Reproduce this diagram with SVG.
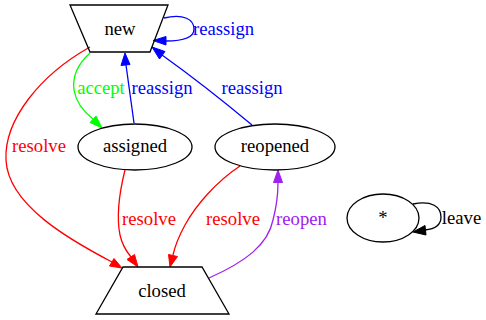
<svg xmlns="http://www.w3.org/2000/svg" width="486" height="320" viewBox="0 0 486 320">
<style>
text{font-family:'Liberation Serif','Times New Roman',serif;font-size:18.67px;text-anchor:middle}
.n{fill:none;stroke:#000;stroke-width:1.3}
.e{fill:none;stroke-width:1.3}
</style>
<rect width="486" height="320" fill="#fff"/>
<g id="edges">
<g id="e_new_new"><path class="e" stroke="#0000ff" d="M164,18 C184,13 194,20 194,29 C194,37 186,41 166,41"/><polygon fill="#0000ff" stroke="#0000ff" points="166,36.5 153,40.5 166,45"/><text x="223.5" y="35" fill="#0000ff">reassign</text></g>
<g id="e_new_assigned"><path class="e" stroke="#00ff00" d="M90,53 C80,62 72,75 74,90 C76,102 84,112 93,119"/><polygon fill="#00ff00" stroke="#00ff00" points="90,122.5 102,128 96,116"/><text x="101" y="94" fill="#00ff00">accept</text></g>
<g id="e_assigned_new"><path class="e" stroke="#0000ff" d="M134,123 L126,65"/><polygon fill="#0000ff" stroke="#0000ff" points="121,65.5 125,53 130,64.5"/><text x="162" y="94" fill="#0000ff">reassign</text></g>
<g id="e_reopened_new"><path class="e" stroke="#0000ff" d="M252,125 C222,100 190,75 162,55"/><polygon fill="#0000ff" stroke="#0000ff" points="159.5,59 152,47 165,51.5"/><text x="252" y="94" fill="#0000ff">reassign</text></g>
<g id="e_new_closed"><path class="e" stroke="#ff0000" d="M90,47 C40,75 4,120 6,160 C8,205 70,240 112,262"/><polygon fill="#ff0000" stroke="#ff0000" points="109.5,266 122,268 114,258.5"/><text x="39" y="152" fill="#ff0000">resolve</text></g>
<g id="e_assigned_closed"><path class="e" stroke="#ff0000" d="M125,170 C120,190 116,215 120,235 C122,244 126,251 131,257"/><polygon fill="#ff0000" stroke="#ff0000" points="127,259.5 138,267 134.5,254.5"/><text x="149" y="225" fill="#ff0000">resolve</text></g>
<g id="e_reopened_closed"><path class="e" stroke="#ff0000" d="M240,166 C216,182 196,205 185,225 C179,236 175,246 173,255"/><polygon fill="#ff0000" stroke="#ff0000" points="168.5,254.5 170,267 177.5,256.5"/><text x="233" y="225" fill="#ff0000">resolve</text></g>
<g id="e_closed_reopened"><path class="e" stroke="#a020f0" d="M209,278 C245,262 268,245 273,220 C277,205 278,195 278,182"/><polygon fill="#a020f0" stroke="#a020f0" points="273.5,182.5 278,170 282.5,182.5"/><text x="301.5" y="225" fill="#a020f0">reopen</text></g>
<g id="e_star_star"><path class="e" stroke="#000" d="M413,204 C432,200 441,207 441,217 C441,225 435,229 425,230"/><polygon fill="#000" stroke="#000" points="425,225.5 413,232 426,235"/><text x="461.5" y="224" fill="#000">leave</text></g>
</g>
<g id="new"><polygon class="n" points="70,5 168,5 150,52 90,52"/><text x="120" y="35">new</text></g>
<g id="assigned"><ellipse class="n" cx="135" cy="147" rx="57" ry="23"/><text x="135" y="152">assigned</text></g>
<g id="reopened"><ellipse class="n" cx="275" cy="147" rx="60" ry="23"/><text x="275" y="152">reopened</text></g>
<g id="closed"><polygon class="n" points="123,267 202,267 229,314 96,314"/><text x="162" y="297">closed</text></g>
<g id="star"><ellipse class="n" cx="383" cy="218" rx="36" ry="24"/><text x="383" y="224">*</text></g>
</svg>
